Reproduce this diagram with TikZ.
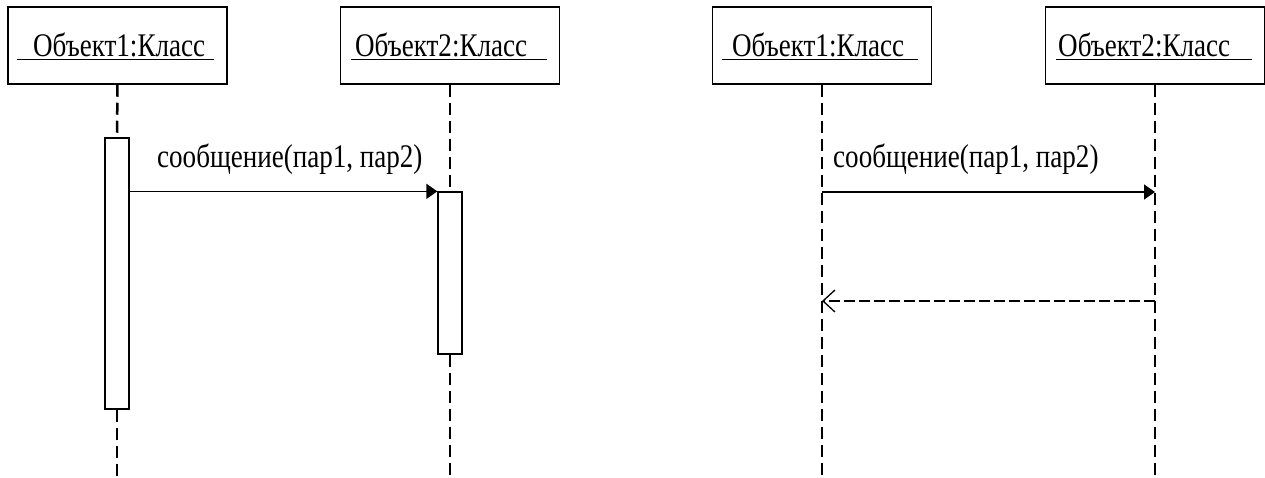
\documentclass[tikz,border=0pt]{standalone}
\usepackage{fontspec}
\setmainfont{Liberation Serif}[FakeStretch=0.82]
\usetikzlibrary{arrows.meta,calc}
\tikzset{
  objbox/.style={draw, line width=1.5pt, minimum width=219pt, minimum height=77pt, inner sep=0pt, fill=white},
  actbox/.style={draw, line width=1.3pt, minimum width=24pt, inner sep=0pt, fill=white},
  lbl/.style={inner sep=0pt, font=\fontsize{33}{38}\selectfont},
  uline/.style={line width=1.3pt},
  lifeline/.style={line width=2.5pt, dash pattern=on 12pt off 6pt},
  msg/.style={line width=1.4pt, -{Triangle[length=11pt,width=15pt]}},
  reply/.style={line width=2pt, dash pattern=on 11pt off 4pt, -{Straight Barb[length=12pt,width=22pt,line width=1.3pt]}},
}
\begin{document}
\begin{tikzpicture}[x=1pt,y=-1pt]
\useasboundingbox (0,0) rectangle (1265,478);
% ---------- left diagram ----------
\node[objbox] (b1) at (117.5,45.5) {};
\node[objbox] (b2) at (450,45.5) {};
\node[lbl, anchor=base west] (t1) at (33,57) {Объект1:Класс};
\node[lbl, anchor=base west] (t2) at (355,57) {Объект2:Класс};
\draw[uline] ($(b1.south west)+(10,-25.5)$) -- ($(b1.south west)+(207,-25.5)$);
\draw[uline] ($(b2.south west)+(11,-25.5)$) -- ($(b2.south west)+(207,-25.5)$);
\node[actbox, minimum height=271pt] (a1) at (117,273.5) {};
\node[actbox, minimum height=162pt] (a2) at (450,273) {};
\coordinate (e1) at (117,478);
\coordinate (e2) at (450,478);
\draw[lifeline] (b1.south) -- (a1.north);
\draw[lifeline] (a1.south) -- (e1);
\draw[lifeline] (b2.south) -- (a2.north);
\draw[lifeline] (a2.south) -- (e2);
\draw[msg] (a1.east |- a2.north west) -- (a2.north west);
\node[lbl, anchor=base west] (m1) at (157,168) {сообщение(пар1, пар2)};
% ---------- right diagram ----------
\node[objbox] (b3) at (822,45.5) {};
\node[objbox] (b4) at (1155,45.5) {};
\node[lbl, anchor=base west] (t3) at (732,57) {Объект1:Класс};
\node[lbl, anchor=base west] (t4) at (1058,57) {Объект2:Класс};
\draw[uline] ($(b3.south west)+(10.5,-25.5)$) -- ($(b3.south west)+(206.5,-25.5)$);
\draw[uline] ($(b4.south west)+(11.5,-25.5)$) -- ($(b4.south west)+(207.5,-25.5)$);
\coordinate (e3) at (822,478);
\coordinate (e4) at (1155,478);
\draw[lifeline] (b3.south) -- (e3);
\draw[lifeline] (b4.south) -- (e4);
\coordinate (s3) at (822,192);
\coordinate (s4) at (1155,192);
\coordinate (r3) at (822,301);
\coordinate (r4) at (1155,301);
\draw[msg] (s3) -- (s4);
\draw[reply] (r4) -- (r3);
\node[lbl, anchor=base west] (m2) at (833,168) {сообщение(пар1, пар2)};
\end{tikzpicture}
\end{document}
